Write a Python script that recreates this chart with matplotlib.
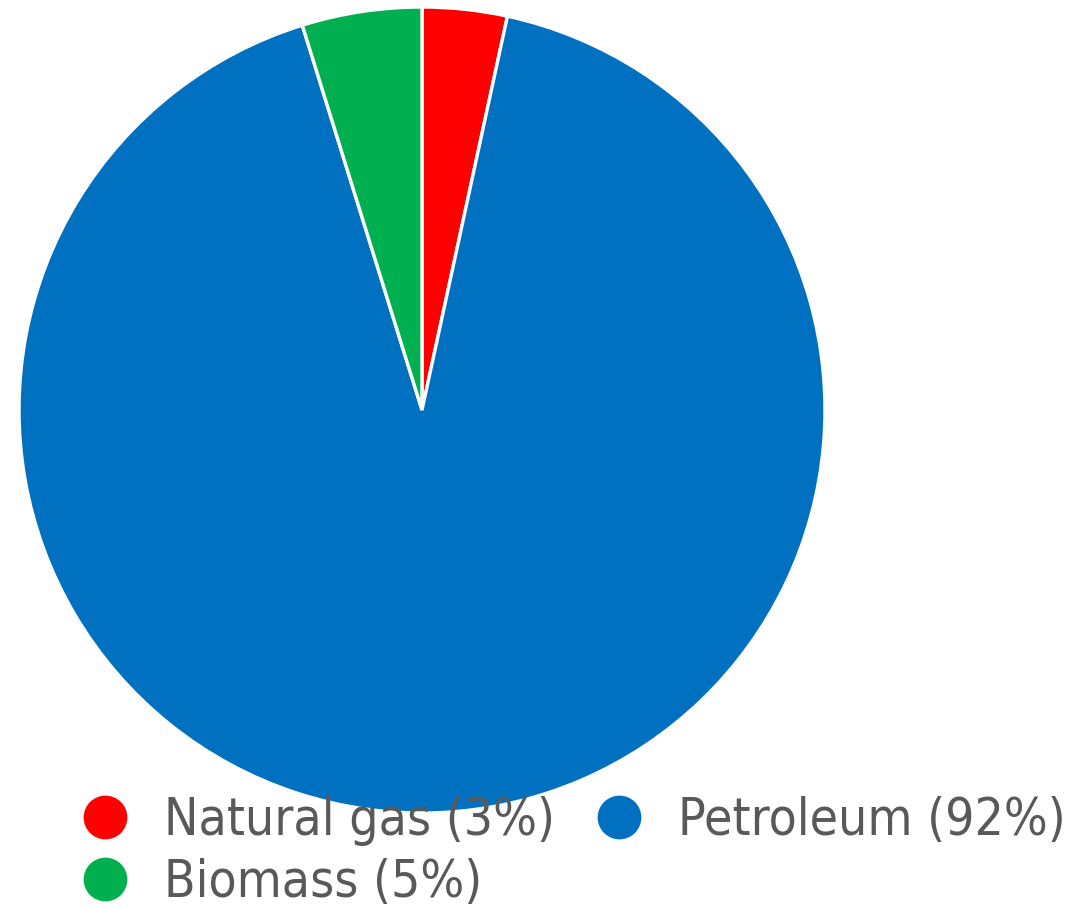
import matplotlib.pyplot as plt
from matplotlib.lines import Line2D

# energy sources, share in percent
sources = ['Natural gas', 'Petroleum', 'Biomass']
shares = [3.4, 91.8, 4.8]
colors = ['#FF0000', '#0070C0', '#00B050']

W, H = 1066, 909
fig = plt.figure(figsize=(W / 100, H / 100), dpi=100)

# pie centre and radius in pixels
cx, cy, r = 422, 410, 405
ax = fig.add_axes([(cx - r) / W, (H - cy - r) / H, 2 * r / W, 2 * r / H])
ax.pie(shares, colors=colors, startangle=90, counterclock=False, radius=1,
       wedgeprops=dict(edgecolor='white', linewidth=2.4))
ax.set_xlim(-1.005, 1.005)
ax.set_ylim(-1.005, 1.005)
ax.set_aspect('equal')
ax.axis('off')

labels = ['%s (%d%%)' % (s, round(v)) for s, v in zip(sources, shares)]
handles = [Line2D([], [], marker='o', linestyle='none', markersize=33,
                  markerfacecolor=c, markeredgecolor='white', markeredgewidth=1.5)
           for c in colors]
# column-wise fill: Natural gas, Biomass | Petroleum
order = [0, 2, 1]
leg = fig.legend([handles[i] for i in order], [labels[i] for i in order],
                 ncol=2, loc='lower left', bbox_to_anchor=(0.031, -0.05),
                 frameon=False, handletextpad=0.65, columnspacing=0.75,
                 labelspacing=0.23, handlelength=1.0,
                 prop=dict(family='DejaVu Sans', stretch='condensed', size=37))
for t in leg.get_texts():
    t.set_color('#595959')

plt.savefig('out.png', dpi=100)
